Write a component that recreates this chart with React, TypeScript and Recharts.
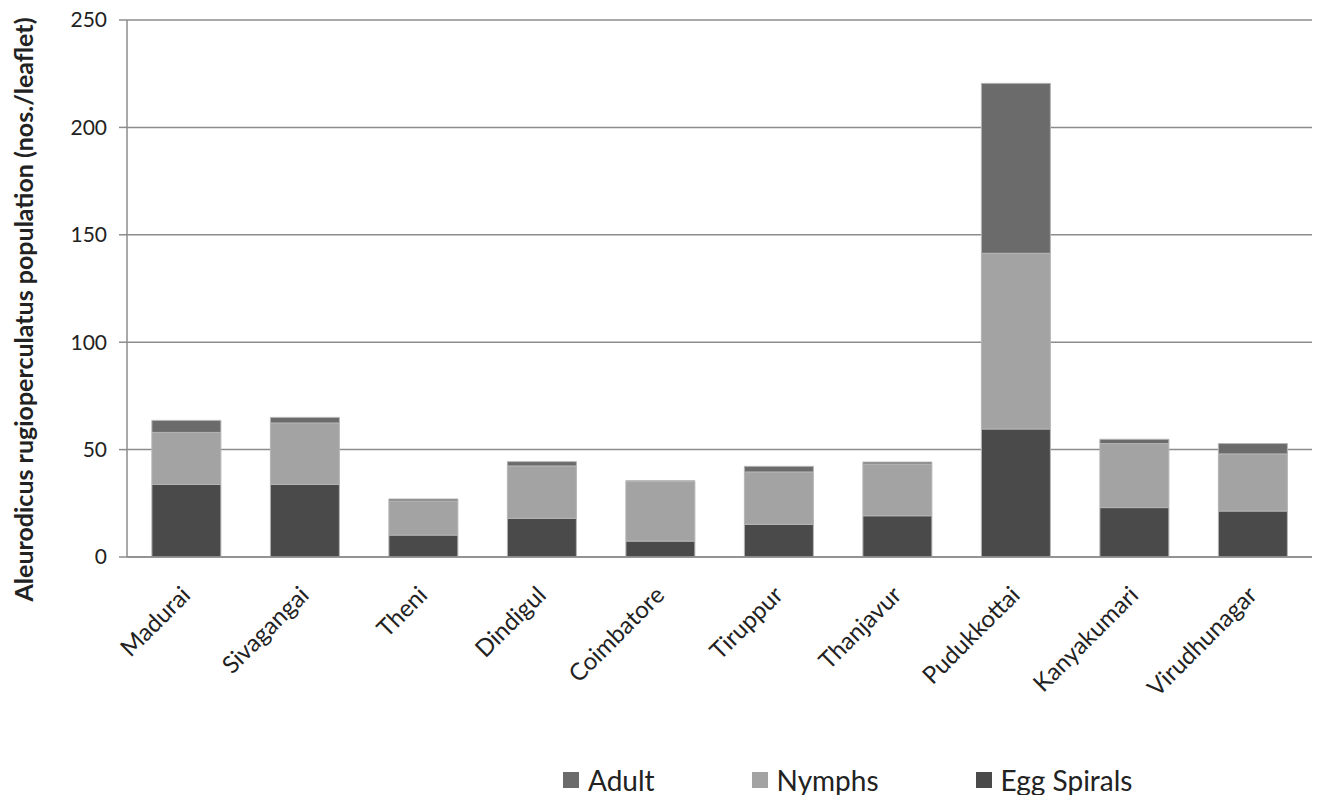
import { Bar, BarChart, CartesianGrid, Legend, XAxis, YAxis } from "recharts"

const districts = ['Madurai', 'Sivagangai', 'Theni', 'Dindigul', 'Coimbatore', 'Tiruppur', 'Thanjavur', 'Pudukkottai', 'Kanyakumari', 'Virudhunagar'];
const eggSpirals = [33.8, 33.8, 10.2, 18.0, 7.4, 15.2, 19.2, 59.6, 23.0, 21.4];
const nymphs = [24.2, 28.6, 15.9, 24.4, 27.7, 24.4, 24.1, 81.8, 29.8, 26.6];
const adults = [5.6, 2.6, 0.9, 2.0, 0.4, 2.6, 0.9, 79.1, 2.0, 4.8];
const yTicks = [0, 50, 100, 150, 200, 250];

const data = districts.map((name, i) => ({ name, egg: eggSpirals[i], nymph: nymphs[i], adult: adults[i] }));

const FONT = "Lato, 'Open Sans', sans-serif";
const legendOrder = [
  { key: 'adult', label: 'Adult', color: '#6b6b6b' },
  { key: 'nymph', label: 'Nymphs', color: '#a3a3a3' },
  { key: 'egg', label: 'Egg Spirals', color: '#4a4a4a' },
];

function LegendBox() {
  return (
    <div style={{ display: 'flex', paddingLeft: 563, paddingTop: 19, height: 50, boxSizing: 'border-box', fontFamily: FONT, fontSize: 28, lineHeight: '28px', color: '#222' }}>
      {legendOrder.map(it => (
        <div key={it.key} style={{ display: 'flex', alignItems: 'center', marginRight: 97 }}>
          <span style={{ display: 'inline-block', width: 16, height: 16, background: it.color, marginRight: 9 }} />
          <span>{it.label}</span>
        </div>
      ))}
    </div>
  )
}

function XTick({ x, y, payload }: any) {
  return (
    <g transform={`translate(${x},${y + 26})`}>
      <text textAnchor="end" transform="rotate(-45)" fontFamily={FONT} fontSize={24} fill="#222" dy={8}>
        {payload.value}
      </text>
    </g>
  )
}

function YTitle({ viewBox }: any) {
  const cx = 27;
  const cy = viewBox.y + viewBox.height / 2 + 21;
  return (
    <text x={cx} y={cy} transform={`rotate(-90, ${cx}, ${cy})`} textAnchor="middle" dominantBaseline="middle" fontFamily={FONT} fontWeight="bold" fontSize={25} fill="#222">
      Aleurodicus rugioperculatus population  (nos./leaflet)
    </text>
  )
}

export default function App() {
  return (
    <div style={{ position: 'absolute', left: 0, top: 0, width: 1320, height: 795, background: '#fff' }}>
      <BarChart width={1320} height={795} data={data} margin={{ top: 20, right: 8, left: 0, bottom: 0 }} barCategoryGap="21%">
        <CartesianGrid vertical={false} stroke="#8c8c8c" strokeWidth={1.5} />
        <XAxis dataKey="name" height={188} tick={<XTick />} tickLine={false} axisLine={{ stroke: '#8c8c8c', strokeWidth: 1.5 }} interval={0} />
        <YAxis width={127} domain={[0, 250]} ticks={yTicks} tickSize={8} tickMargin={12}
          axisLine={{ stroke: '#8c8c8c', strokeWidth: 1.5 }} tickLine={{ stroke: '#8c8c8c', strokeWidth: 1.5 }}
          tick={{ fontFamily: FONT, fontSize: 21, fill: '#222' }} label={<YTitle />} />
        <Legend verticalAlign="bottom" content={<LegendBox />} />
        <Bar dataKey="egg" stackId="a" fill="#4a4a4a" stroke="#b5b5b5" strokeWidth={1} name="Egg Spirals" isAnimationActive={false} />
        <Bar dataKey="nymph" stackId="a" fill="#a3a3a3" stroke="#b5b5b5" strokeWidth={1} name="Nymphs" isAnimationActive={false} />
        <Bar dataKey="adult" stackId="a" fill="#6b6b6b" stroke="#b5b5b5" strokeWidth={1} name="Adult" isAnimationActive={false} />
      </BarChart>
    </div>
  )
}
